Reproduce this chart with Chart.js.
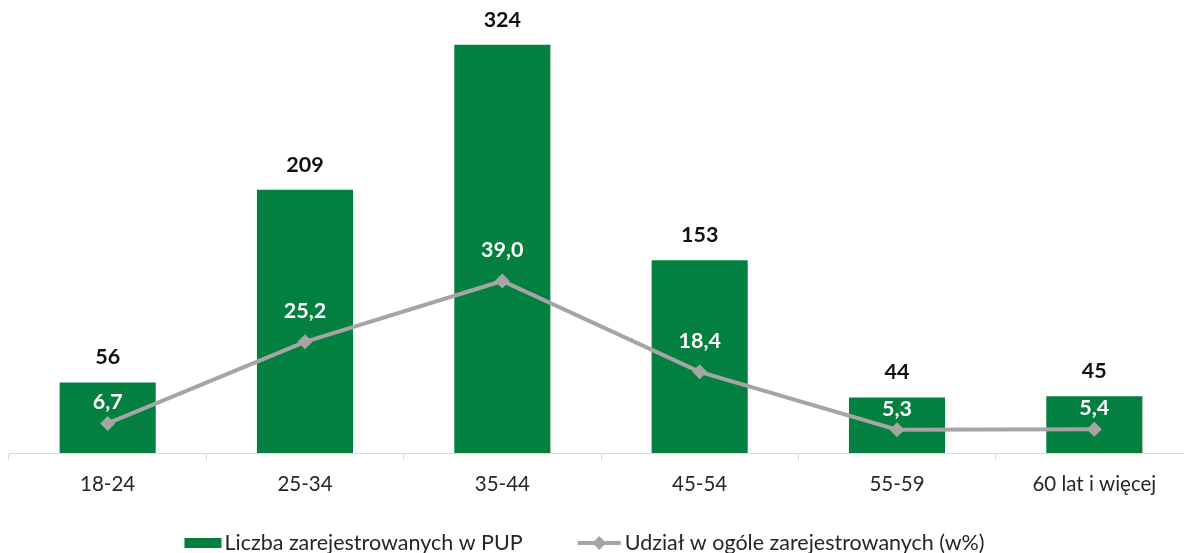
<!DOCTYPE html>
<html><head><meta charset="utf-8">
<script src="https://cdn.jsdelivr.net/npm/chart.js@4/dist/chart.umd.min.js"></script>
<style>html,body{margin:0;padding:0;background:#fff;overflow:hidden}#wrap{width:1194px;height:553px}</style>
</head><body><div id="wrap"><canvas id="c" width="1194" height="553"></canvas></div>
<script>
const categories = ['18-24', '25-34', '35-44', '45-54', '55-59', '60 lat i więcej'];
const registered = [56, 209, 324, 153, 44, 45];
const sharePct = [6.7, 25.2, 39.0, 18.4, 5.3, 5.4];
const barLabel = 'Liczba zarejestrowanych w PUP';
const lineLabel = 'Udział w ogóle zarejestrowanych (w%)';

const GREEN = '#03803F';
const GRAY = '#A5A5A5';
const FONT = 'Lato';

const fmt = v => v.toFixed(1).replace('.', ',');

const labelsPlugin = {
  id: 'valLabels',
  afterDatasetsDraw(chart) {
    const ctx = chart.ctx;
    ctx.save();
    ctx.textAlign = 'center';
    ctx.textBaseline = 'middle';
    ctx.font = 'bold 21.5px ' + FONT;
    const bm = chart.getDatasetMeta(0);
    bm.data.forEach((el, i) => {
      ctx.fillStyle = '#111';
      ctx.fillText(String(registered[i]), el.x, el.y - 25);
    });
    const lm = chart.getDatasetMeta(1);
    lm.data.forEach((el, i) => {
      ctx.fillStyle = '#fff';
      const off = sharePct[i] > 10 ? 31 : 21;
      ctx.fillText(fmt(sharePct[i]), el.x, el.y - off);
    });
    ctx.restore();
  }
};

const legendPlugin = {
  id: 'customLegend',
  afterDraw(chart) {
    const ctx = chart.ctx;
    ctx.save();
    ctx.font = '21.5px ' + FONT;
    ctx.textBaseline = 'middle';
    const cy = 543;
    const w1 = ctx.measureText(barLabel).width;
    const w2 = ctx.measureText(lineLabel).width;
    const boxW = 37, gap = 3, lineW = 43, between = 55;
    const total = boxW + gap + w1 + between + lineW + gap + w2;
    let x = 584 - total / 2;
    ctx.fillStyle = GREEN;
    ctx.fillRect(x, cy - 5, boxW, 10);
    x += boxW + gap;
    ctx.fillStyle = '#262626';
    ctx.fillText(barLabel, x, cy);
    x += w1 + between;
    ctx.strokeStyle = GRAY;
    ctx.lineWidth = 4;
    ctx.beginPath();
    ctx.moveTo(x, cy);
    ctx.lineTo(x + lineW, cy);
    ctx.stroke();
    const dx = x + lineW / 2;
    ctx.fillStyle = GRAY;
    ctx.beginPath();
    ctx.moveTo(dx, cy - 7); ctx.lineTo(dx + 7, cy); ctx.lineTo(dx, cy + 7); ctx.lineTo(dx - 7, cy);
    ctx.closePath(); ctx.fill();
    x += lineW + gap + 1;
    ctx.fillStyle = '#262626';
    ctx.fillText(lineLabel, x, cy);
    ctx.restore();
  }
};

new Chart(document.getElementById('c'), {
  data: {
    labels: categories,
    datasets: [
      {
        type: 'bar', label: barLabel, data: registered, yAxisID: 'y',
        backgroundColor: GREEN, borderWidth: 0,
        barPercentage: 0.487, categoryPercentage: 1, order: 2
      },
      {
        type: 'line', label: lineLabel, data: sharePct, yAxisID: 'y1',
        borderColor: GRAY, borderWidth: 4, tension: 0,
        pointStyle: 'rectRot', pointRadius: 7.5, pointHoverRadius: 7.5,
        pointBackgroundColor: GRAY, pointBorderColor: GRAY, pointBorderWidth: 0,
        order: 1
      }
    ]
  },
  options: {
    responsive: false,
    animation: false,
    events: [],
    layout: { autoPadding: false, padding: { left: 9, right: 1, top: 12, bottom: 0 } },
    plugins: { legend: { display: false }, tooltip: { enabled: false } },
    scales: {
      x: {
        offset: true,
        grid: { display: true, drawOnChartArea: false, drawTicks: true, tickLength: 7, color: '#D9D9D9', offset: true },
        border: { display: true, color: '#D9D9D9', width: 1 },
        ticks: { color: '#262626', font: { family: FONT, size: 20.5 }, padding: 12, maxRotation: 0, autoSkip: false },
        afterFit(s) { s.height = 100; }
      },
      y: { display: false, min: 0, max: 350 },
      y1: { display: false, min: 0, max: 100, position: 'right' }
    }
  },
  plugins: [labelsPlugin, legendPlugin]
});
</script>
</body></html>
